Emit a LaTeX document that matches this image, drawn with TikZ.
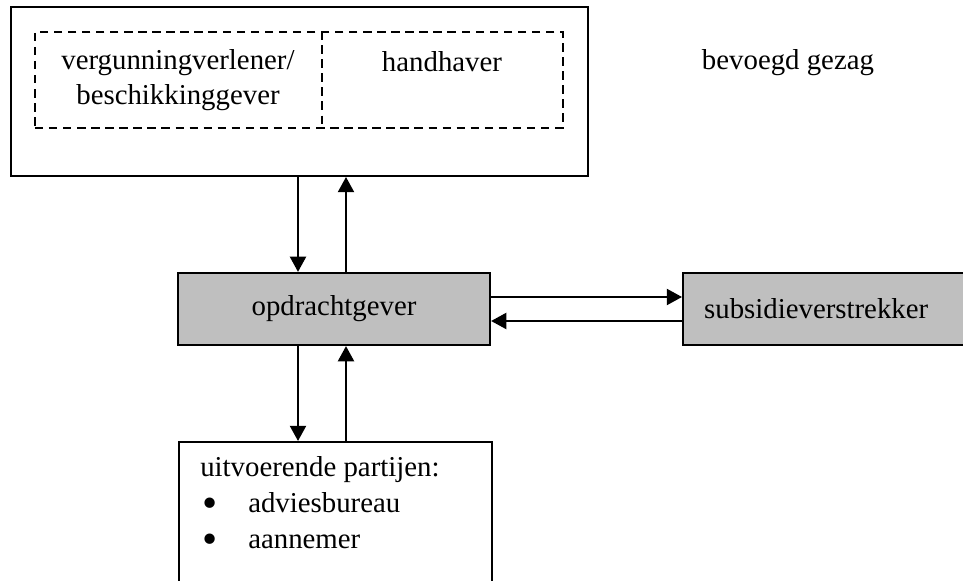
\documentclass[tikz,border=0pt]{standalone}
\usepackage{fontspec}
\setmainfont{Liberation Serif}
\usetikzlibrary{arrows.meta, positioning, calc}

\tikzset{
  kader/.style={draw, line width=1.6pt, inner sep=0pt},
  grijs/.style={kader, fill=black!25},
  stippel/.style={draw, line width=1.3pt, dash pattern=on 6pt off 4pt},
  tekst/.style={font=\fontsize{20.5}{25}\selectfont, inner sep=0pt},
  pijl/.style={line width=1.6pt, -{Triangle[length=0.38cm, width=0.4cm]}}
}
\newcommand{\opsom}{\makebox[1.15cm][l]{\smash{\raisebox{-0.14em}{\scalebox{1.5}{\textbullet}}}}}

\begin{document}
\begin{tikzpicture}

  \useasboundingbox (0,0) rectangle (24.075,14.525);
  \clip (0,0) rectangle (24.075,14.525);

  % Bevoegd gezag
  \node[kader, anchor=south west, minimum width=14.425cm, minimum height=4.225cm] (gezag) at (0.25,10.1) {};
  \node[stippel, anchor=south west, minimum width=13.2cm, minimum height=2.4cm, inner sep=0pt] (taken) at (0.85,11.3) {};
  \coordinate (deler) at (8.05,12.5);
  \draw[stippel] (deler |- taken.north) -- (deler |- taken.south);
  \node[tekst, align=center] (verg) at (4.45,12.53) {vergunningverlener/\\beschikkinggever};
  \node[tekst, anchor=base] (handh) at (11.05,12.725) {handhaver};
  \node[tekst, anchor=base] (bg) at (19.7,12.775) {bevoegd gezag};

  % Opdrachtgever en subsidieverstrekker
  \node[grijs, tekst, minimum width=7.8cm, minimum height=1.8cm] (opdr) at (8.35,6.8) {opdrachtgever};
  \node[grijs, tekst, anchor=west, minimum height=1.8cm, text width=6.45cm, inner xsep=0.525cm, align=left] (subs) at (17.05,6.8) {subsidieverstrekker};

  % Uitvoerende partijen
  \node[kader, anchor=north west, minimum width=7.825cm, minimum height=4.2cm] (uitv) at (4.45,3.5) {};
  \node[tekst, anchor=base west] (kop) at (5.0,2.6) {uitvoerende partijen:};
  \node[tekst, anchor=base west] (advies) at (5.05,1.7) {\opsom adviesbureau};
  \node[tekst, anchor=base west] (aann) at (5.05,0.8) {\opsom aannemer};

  % Pijlen
  \draw[pijl] ([xshift=-0.9cm]opdr.north |- gezag.south) -- ([xshift=-0.9cm]opdr.north);
  \draw[pijl] ([xshift=0.3cm]opdr.north) -- ([xshift=0.3cm]opdr.north |- gezag.south);
  \draw[pijl] ([xshift=-0.9cm]opdr.south) -- ([xshift=-0.9cm]opdr.south |- uitv.north);
  \draw[pijl] ([xshift=0.3cm]opdr.south |- uitv.north) -- ([xshift=0.3cm]opdr.south);
  \draw[pijl] ([yshift=0.3cm]opdr.east) -- ([yshift=0.3cm]opdr.east -| subs.west);
  \draw[pijl] ([yshift=-0.3cm]opdr.east -| subs.west) -- ([yshift=-0.3cm]opdr.east);

\end{tikzpicture}
\end{document}
